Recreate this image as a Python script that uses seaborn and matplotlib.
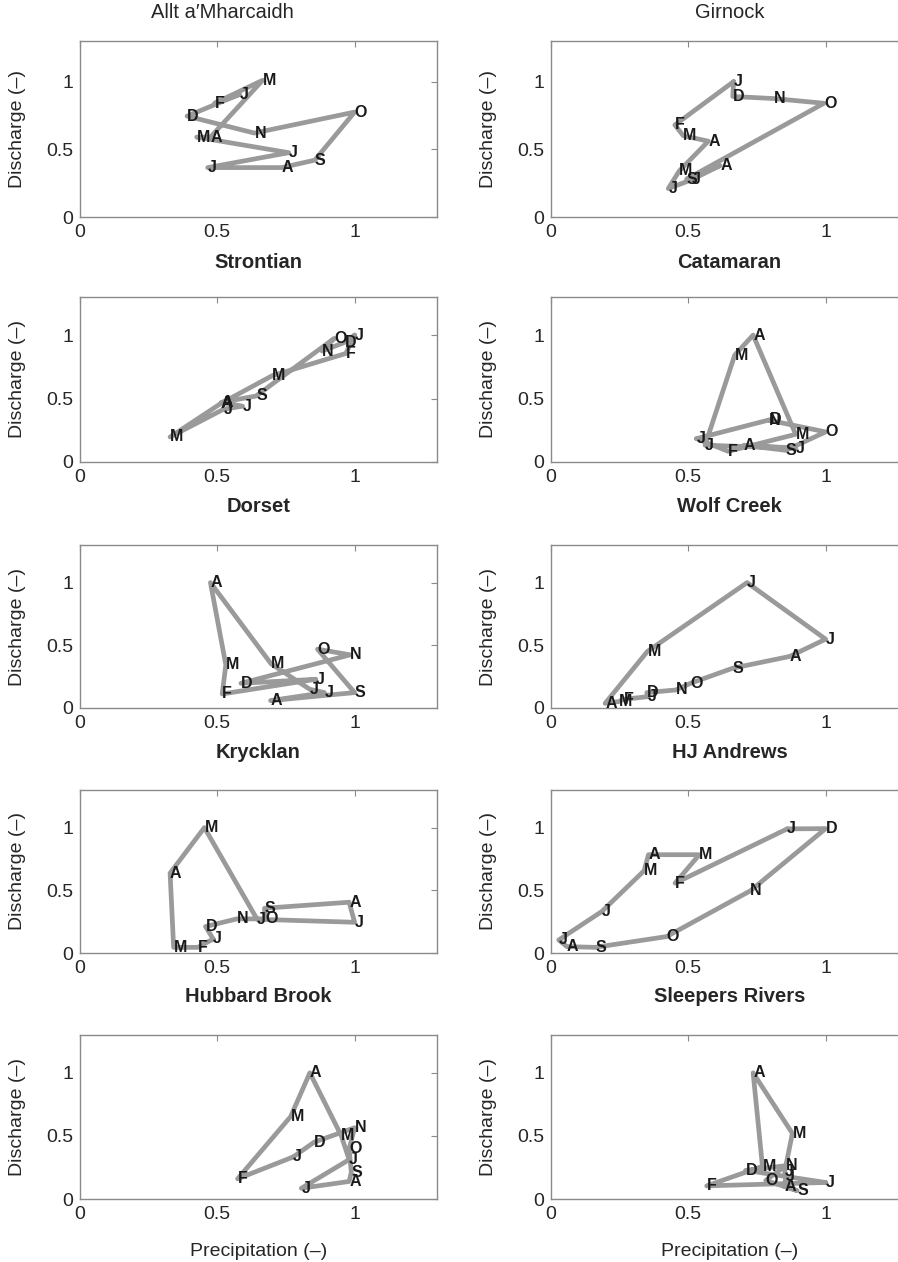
import matplotlib
matplotlib.use("Agg")
import matplotlib.pyplot as plt
import numpy as np
import pandas as pd
import seaborn as sns

# month labels, Jan..Dec
MONTHS = ["J", "F", "M", "A", "M", "J", "J", "A", "S", "O", "N", "D"]

# normalised precipitation (x) and discharge (y) per catchment, Jan..Dec
allt_p = [0.58, 0.49, 0.665, 0.475, 0.425, 0.76, 0.465, 0.735, 0.855, 1.0, 0.635, 0.39]
allt_q = [0.905, 0.84, 1.01, 0.59, 0.59, 0.475, 0.365, 0.365, 0.42, 0.775, 0.62, 0.745]

girnock_p = [0.665, 0.451, 0.482, 0.573, 0.467, 0.427, 0.512, 0.616, 0.494, 0.994, 0.811, 0.662]
girnock_q = [1.0, 0.68, 0.60, 0.56, 0.34, 0.21, 0.275, 0.38, 0.28, 0.84, 0.875, 0.89]

strontian_p = [1.0, 0.968, 0.70, 0.512, 0.328, 0.522, 0.592, 0.515, 0.641, 0.926, 0.882, 0.963]
strontian_q = [1.0, 0.855, 0.68, 0.46, 0.197, 0.415, 0.44, 0.47, 0.52, 0.974, 0.874, 0.942]

catamaran_p = [0.53, 0.645, 0.891, 0.736, 0.669, 0.561, 0.891, 0.702, 0.855, 1.0, 0.794, 0.797]
catamaran_q = [0.184, 0.084, 0.218, 1.0, 0.842, 0.132, 0.11, 0.132, 0.092, 0.237, 0.329, 0.333]

dorset_p = [0.858, 0.518, 0.531, 0.475, 0.696, 0.837, 0.89, 0.694, 1.0, 0.865, 0.984, 0.586]
dorset_q = [0.229, 0.112, 0.344, 1.0, 0.352, 0.149, 0.123, 0.059, 0.123, 0.469, 0.424, 0.197]

wolf_p = [0.351, 0.264, 0.246, 0.197, 0.351, 0.714, 1.0, 0.869, 0.661, 0.508, 0.455, 0.349]
wolf_q = [0.09, 0.069, 0.051, 0.037, 0.451, 1.0, 0.549, 0.411, 0.317, 0.197, 0.144, 0.123]

krycklan_p = [0.485, 0.429, 0.341, 0.328, 0.453, 0.645, 1.0, 0.98, 0.672, 0.674, 0.571, 0.457]
krycklan_q = [0.112, 0.045, 0.045, 0.637, 1.0, 0.269, 0.245, 0.405, 0.357, 0.272, 0.272, 0.211]

hja_p = [0.86, 0.452, 0.54, 0.355, 0.339, 0.185, 0.028, 0.058, 0.161, 0.421, 0.726, 1.0]
hja_q = [0.99, 0.557, 0.784, 0.784, 0.656, 0.331, 0.104, 0.051, 0.045, 0.131, 0.496, 0.992]

hubbard_p = [0.776, 0.574, 0.767, 0.837, 0.951, 0.98, 0.806, 0.98, 0.988, 0.98, 1.0, 0.853]
hubbard_q = [0.333, 0.16, 0.653, 1.0, 0.504, 0.312, 0.085, 0.139, 0.211, 0.397, 0.565, 0.451]

sleepers_p = [1.0, 0.567, 0.77, 0.736, 0.879, 0.851, 0.855, 0.851, 0.896, 0.782, 0.855, 0.709]
sleepers_q = [0.131, 0.104, 0.259, 1.0, 0.52, 0.219, 0.179, 0.099, 0.067, 0.147, 0.264, 0.227]

SITES = [
    ("Allt a\u2032Mharcaidh", allt_p, allt_q),
    ("Girnock", girnock_p, girnock_q),
    ("Strontian", strontian_p, strontian_q),
    ("Catamaran", catamaran_p, catamaran_q),
    ("Dorset", dorset_p, dorset_q),
    ("Wolf Creek", wolf_p, wolf_q),
    ("Krycklan", krycklan_p, krycklan_q),
    ("HJ Andrews", hja_p, hja_q),
    ("Hubbard Brook", hubbard_p, hubbard_q),
    ("Sleepers Rivers", sleepers_p, sleepers_q),
]

sns.set_style("white")
plt.rcParams["font.family"] = ["Liberation Sans", "DejaVu Sans"]

W, H = 898, 1262
fig = plt.figure(figsize=(W / 100, H / 100), dpi=100)

col_x = [80, 551]
col_w = 357
rows = [(41, 217), (297, 462), (545, 708), (790, 953), (1035, 1199)]
title_y = [13, 262, 507, 752, 996]
edge = "#8a8a8a"

for i, (name, p, q) in enumerate(SITES):
    r, c = divmod(i, 2)
    top, bot = rows[r]
    ax = fig.add_axes([col_x[c] / W, 1 - bot / H, col_w / W, (bot - top) / H])

    df = pd.DataFrame({"p": p + p[:1], "q": q + q[:1]})
    sns.lineplot(data=df, x="p", y="q", sort=False, estimator=None,
                 color="#9a9a9a", linewidth=3.4, ax=ax,
                 solid_joinstyle="round", solid_capstyle="round")
    for m, x, y in zip(MONTHS, p, q):
        ax.text(x, y, m, ha="left", va="center", fontsize=11.5,
                fontweight="bold", color="#1a1a1a", zorder=5)

    ax.set_xlim(0, 1.3)
    ax.set_ylim(0, 1.3)
    ax.set_xticks([0, 0.5, 1])
    ax.set_xticklabels(["0", "0.5", "1"])
    ax.set_yticks([0, 0.5, 1])
    ax.set_yticklabels(["0", "0.5", "1"])
    ax.tick_params(direction="in", top=True, right=True, length=4,
                   color=edge, labelsize=14, pad=5)
    for s in ax.spines.values():
        s.set_color(edge)
        s.set_linewidth(1.0)
    ax.set_ylabel("Discharge (\u2013)", fontsize=14)
    ax.yaxis.set_label_coords(-54 / col_w, 0.5)
    if r == 4:
        ax.set_xlabel("Precipitation (\u2013)", fontsize=14)
        ax.xaxis.set_label_coords(0.5, -(1243 - bot) / (bot - top))
    else:
        ax.set_xlabel("")

    cx = (col_x[c] + col_w / 2) / W
    if r == 0:
        if c == 0:
            cx = 222 / W
        fig.text(cx, 1 - title_y[r] / H, name, ha="center", va="center",
                 fontsize=14.5)
    else:
        fig.text(cx, 1 - title_y[r] / H, name, ha="center", va="center",
                 fontsize=14.5, fontweight="bold")

fig.savefig("out.png", dpi=100)
